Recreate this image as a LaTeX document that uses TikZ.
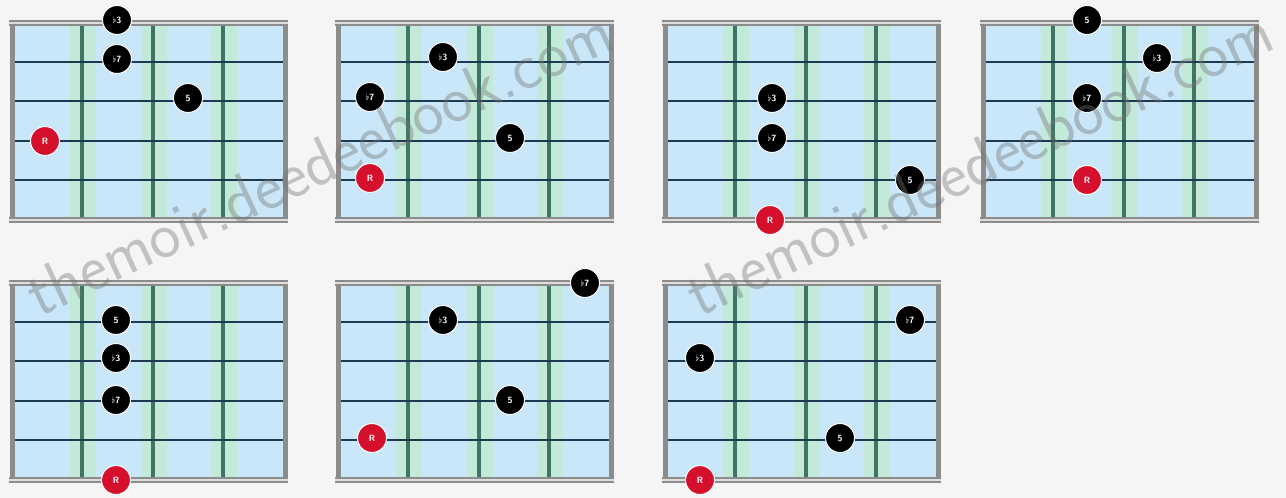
\documentclass[tikz,border=0pt]{standalone}
\usetikzlibrary{decorations.text}
\definecolor{bg}{HTML}{F5F5F5}
\definecolor{board}{HTML}{C9E7F8}
\definecolor{halo}{HTML}{C3EAD9}
\definecolor{fretc}{HTML}{3E7565}
\definecolor{strg}{HTML}{1E3A52}
\definecolor{framec}{HTML}{8C8C8C}
\definecolor{framel}{HTML}{DDDDDD}
\definecolor{rootred}{HTML}{D4102C}
\tikzset{
  notedot/.style={circle, fill=black, draw=white, line width=1pt, minimum size=29pt,
    inner sep=0pt, text=white, font=\sffamily\bfseries\fontsize{9}{9}\selectfont},
  rootdot/.style={notedot, fill=rootred},
  stringline/.style={draw=strg, line width=2.5pt},
  fretline/.style={draw=fretc, line width=4pt},
  frameouter/.style={draw=framec, line width=6pt},
  frameinner/.style={draw=framel, line width=1.5pt},
  sideline/.style={draw=framec, line width=5pt},
  watermark/.style={decorate, decoration={text along path, text align=center,
    text color=black!55,
    text={|\sffamily\fontsize{66}{66}\selectfont|themoir.deedeebook.com}}},
}
\newcommand\fboard[2]{%
  \begin{scope}[shift={(#1,#2)}]
    \fill[board] (0,0) rectangle (273,197);
    \foreach \f in {70,141,211} \fill[halo] (\f-12,0) rectangle (\f+14,197);
    \foreach \f in {70,141,211} \draw[fretline] (\f,0) -- (\f,197);
    \foreach \s in {39,78,118,157} \draw[stringline] (0,\s) -- (273,\s);
    \draw[sideline] (0,-3) -- (0,200);
    \draw[sideline] (273,-3) -- (273,200);
    \draw[frameouter] (-3,0) -- (276,0);
    \draw[frameinner] (-3,0) -- (276,0);
    \draw[frameouter] (-3,197) -- (276,197);
    \draw[frameinner] (-3,197) -- (276,197);
  \end{scope}}
\begin{document}
\begin{tikzpicture}[x=1pt,y=-1pt]
  \fill[bg] (0,0) rectangle (1286,498);
  \useasboundingbox (0,0) rectangle (1286,498);
  % boards
  \fboard{12}{23}
  \fboard{338}{23}
  \fboard{665}{23}
  \fboard{983}{23}
  \fboard{12}{283}
  \fboard{338}{283}
  \fboard{665}{283}
  % diagram 1
  \begin{scope}[shift={(12,23)}]
    \node[notedot] (a1) at (105,-3) {$\flat$3};
    \node[notedot] (a2) at (105,36) {$\flat$7};
    \node[notedot] (a3) at (176,75) {5};
    \node[rootdot] (a4) at (33,118) {R};
  \end{scope}
  % diagram 2
  \begin{scope}[shift={(338,23)}]
    \node[notedot] (b1) at (105,34) {$\flat$3};
    \node[notedot] (b2) at (32,74) {$\flat$7};
    \node[notedot] (b3) at (172,115) {5};
    \node[rootdot] (b4) at (32,155) {R};
  \end{scope}
  % diagram 3
  \begin{scope}[shift={(665,23)}]
    \node[notedot] (c1) at (107,75) {$\flat$3};
    \node[notedot] (c2) at (107,115) {$\flat$7};
    \node[notedot] (c3) at (245,157) {5};
    \node[rootdot] (c4) at (105,197) {R};
  \end{scope}
  % diagram 4
  \begin{scope}[shift={(983,23)}]
    \node[notedot] (d1) at (104,-3) {5};
    \node[notedot] (d2) at (174,35) {$\flat$3};
    \node[notedot] (d3) at (104,75) {$\flat$7};
    \node[rootdot] (d4) at (104,157) {R};
  \end{scope}
  % diagram 5
  \begin{scope}[shift={(12,283)}]
    \node[notedot] (e1) at (104,37) {5};
    \node[notedot] (e2) at (104,75) {$\flat$3};
    \node[notedot] (e3) at (104,117) {$\flat$7};
    \node[rootdot] (e4) at (104,197) {R};
  \end{scope}
  % diagram 6
  \begin{scope}[shift={(338,283)}]
    \node[notedot] (f1) at (247,0) {$\flat$7};
    \node[notedot] (f2) at (105,37) {$\flat$3};
    \node[notedot] (f3) at (172,117) {5};
    \node[rootdot] (f4) at (34,155) {R};
  \end{scope}
  % diagram 7
  \begin{scope}[shift={(665,283)}]
    \node[notedot] (g1) at (245,37) {$\flat$7};
    \node[notedot] (g2) at (35,75) {$\flat$3};
    \node[notedot] (g3) at (175,155) {5};
    \node[rootdot] (g4) at (35,197) {R};
  \end{scope}
  % watermarks
  \coordinate (w1s) at (2,335);
  \coordinate (w1e) at (655,30);
  \coordinate (w2s) at (662,335);
  \coordinate (w2e) at (1315,30);
  \begin{scope}[opacity=0.4]
    \path[watermark] (w1s) -- (w1e);
    \path[watermark] (w2s) -- (w2e);
  \end{scope}
\end{tikzpicture}
\end{document}
